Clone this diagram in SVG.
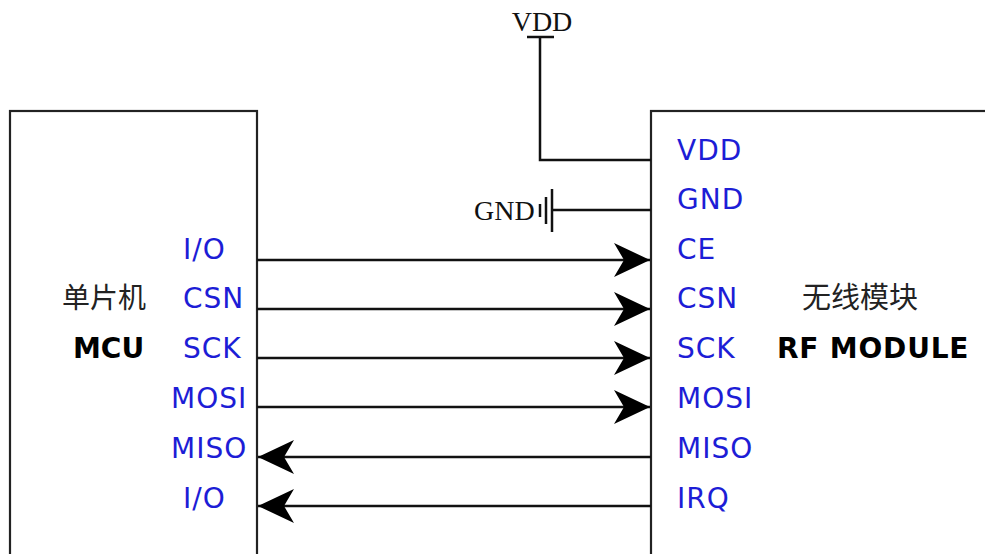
<svg xmlns="http://www.w3.org/2000/svg" width="985" height="554" viewBox="0 0 985 554">
<style>
.box{fill:#fff;stroke:#222;stroke-width:2.2}
.wire{fill:none;stroke:#111;stroke-width:2.5}
.pin{font-family:"DejaVu Sans",Verdana,sans-serif;font-size:28px;fill:#1d1dd6;letter-spacing:1px}
.bold{font-family:"DejaVu Sans",sans-serif;font-size:28px;font-weight:bold;fill:#000}
.cjk{font-family:"Noto Sans CJK SC",sans-serif;font-size:28px;fill:#222}
.ser{font-family:"Liberation Serif",serif;font-size:28px;fill:#111}
</style>
<defs>
<marker id="ah" markerUnits="userSpaceOnUse" markerWidth="37" markerHeight="36" refX="36" refY="18" orient="auto" viewBox="0 0 37 36">
<path d="M0,1 L36,18 L0,35 L10,18 Z" fill="#000"/>
</marker>
</defs>
<rect width="985" height="554" fill="#fff"/>
<g id="mcu">
<rect class="box" x="10" y="111" width="247" height="470"/>
<text class="cjk" x="62" y="308">单片机</text>
<text class="bold" x="73" y="358">MCU</text>
<text class="pin" x="183" y="259">I/O</text>
<text class="pin" x="183" y="308">CSN</text>
<text class="pin" x="183" y="358">SCK</text>
<text class="pin" x="171" y="408">MOSI</text>
<text class="pin" x="171" y="458">MISO</text>
<text class="pin" x="183" y="508">I/O</text>
</g>
<g id="rf">
<rect class="box" x="651" y="111" width="400" height="470"/>
<text class="pin" x="677" y="160">VDD</text>
<text class="pin" x="677" y="209">GND</text>
<text class="pin" x="677" y="259">CE</text>
<text class="pin" x="677" y="308">CSN</text>
<text class="pin" x="677" y="358">SCK</text>
<text class="pin" x="677" y="408">MOSI</text>
<text class="pin" x="677" y="458">MISO</text>
<text class="pin" x="677" y="508">IRQ</text>
<text class="cjk" x="802" y="308" style="font-size:29px">无线模块</text>
<text class="bold" x="777" y="358" style="letter-spacing:0.8px">RF MODULE</text>
</g>
<g id="vdd">
<text class="ser" x="542" y="31" text-anchor="middle">VDD</text>
<line class="wire" x1="527" y1="37" x2="554" y2="37"/>
</g>
<g id="gnd">
<text class="ser" x="474" y="220">GND</text>
<line class="wire" x1="540" y1="204" x2="540" y2="217"/>
<line class="wire" x1="546" y1="197" x2="546" y2="224"/>
<line class="wire" x1="552" y1="189" x2="552" y2="232"/>
</g>
<g id="connectors">
<polyline class="wire" points="540,37 540,160 651,160"/>
<line class="wire" x1="552" y1="210" x2="651" y2="210"/>
<line class="wire" x1="257" y1="260" x2="650" y2="260" marker-end="url(#ah)"/>
<line class="wire" x1="257" y1="309" x2="650" y2="309" marker-end="url(#ah)"/>
<line class="wire" x1="257" y1="358" x2="650" y2="358" marker-end="url(#ah)"/>
<line class="wire" x1="257" y1="407" x2="650" y2="407" marker-end="url(#ah)"/>
<line class="wire" x1="651" y1="457" x2="258" y2="457" marker-end="url(#ah)"/>
<line class="wire" x1="651" y1="506" x2="258" y2="506" marker-end="url(#ah)"/>
</g>
</svg>
